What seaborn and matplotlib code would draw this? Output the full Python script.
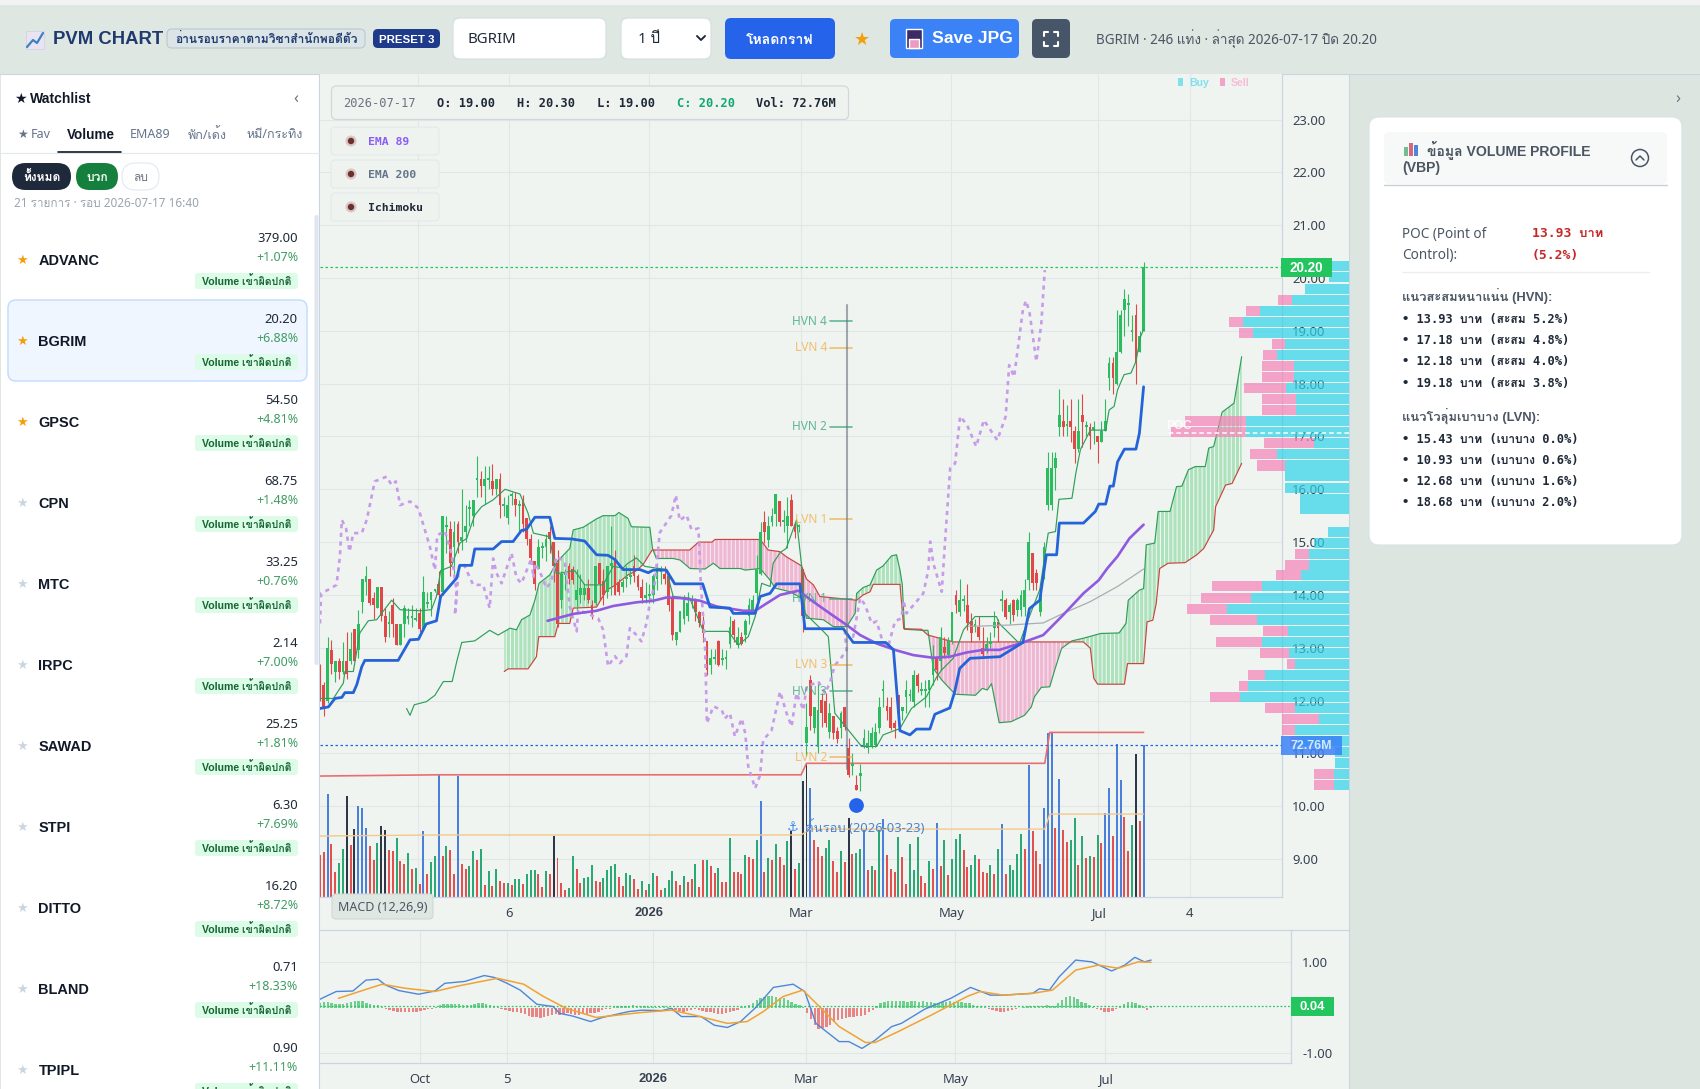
import warnings
import numpy as np
import matplotlib
matplotlib.use("Agg")
import matplotlib.pyplot as plt
from matplotlib.patches import FancyBboxPatch, Rectangle, Circle
from matplotlib import font_manager as fm
from matplotlib.ft2font import FT2Font
import seaborn as sns

# ---------- candles ----------
opens = [12.6,12.3,12.0,12.95,12.55,12.75,12.55,12.75,12.75,13.35,
12.95,13.87,14.25,14.3,13.95,13.75,14.15,13.6,13.45,13.8,
13.45,13.05,13.45,13.55,13.56,13.53,13.65,13.35,13.83,13.9,
14.08,14.2,14.05,15.28,15.25,14.9,15.35,15.02,15.2,15.63,
15.5,16.18,16.2,16.07,16.18,16.15,16.0,16.2,15.68,15.45,
15.88,15.82,15.68,15.8,15.45,15.05,14.65,14.5,14.88,14.9,
15.2,15.0,14.6,13.9,14.38,14.55,14.5,13.9,14.0,14.0,
14.13,13.8,13.85,14.6,14.27,14.05,14.55,14.7,14.25,14.15,
14.3,14.33,14.55,14.35,14.15,13.95,13.98,14.0,14.3,14.43,
14.4,14.35,13.95,13.15,13.3,13.55,13.6,
13.88,13.9,13.68,13.46,13.12,12.68,12.78,13.12,12.76,12.78,
13.08,13.5,13.05,13.2,13.24,13.6,13.68,14.03,14.4,15.38,
15.04,15.38,15.54,15.78,15.38,15.3,15.8,15.3,15.28,14.5,
11.2,12.39,11.48,11.13,12.01,12.0,11.4,11.7,11.42,11.48,
11.88,11.1,10.76,10.4,10.58,11.13,11.1,11.13,11.16,11.48,
12.18,11.9,11.88,11.58,12.11,11.8,12.07,12.08,11.98,12.49,
12.18,12.18,12.2,12.49,12.8,12.74,13.02,12.86,13.12,14.0,
13.68,13.88,13.8,13.5,13.4,13.4,12.99,12.96,13.08,13.37,
13.49,13.88,13.9,13.68,13.9,13.72,13.71,13.78,14.28,14.79,
14.41,13.68,14.4,15.7,15.7,16.4,17.18,17.3,17.2,17.3,
17.1,16.77,17.4,17.18,17.18,17.13,17.0,16.9,17.1,18.1,
18.4,18.0,18.6,19.4,19.48,18.98,19.3,18.6,19.0]
closes = [12.1,11.85,13.0,12.7,12.75,12.55,12.75,12.5,12.97,12.75,
13.45,14.3,14.35,13.85,13.8,14.15,13.6,13.2,13.47,13.45,
13.05,13.45,13.75,13.6,13.6,13.57,13.35,14.05,13.87,14.05,
14.12,14.0,15.5,15.32,14.6,15.2,15.0,15.1,15.3,15.67,
15.8,16.22,16.07,16.2,16.22,16.0,16.2,15.7,15.72,15.7,
15.92,15.7,15.72,15.35,15.05,14.7,14.2,14.9,14.92,15.05,
15.05,14.55,13.45,14.4,14.42,14.3,14.28,14.1,14.13,14.13,
13.9,13.6,14.55,14.2,14.0,14.55,14.6,14.0,14.05,14.25,
14.34,14.37,14.35,14.15,13.95,14.0,14.02,14.35,14.55,14.47,
14.3,13.8,13.25,13.3,13.7,13.9,13.85,
13.92,13.68,13.46,13.27,12.58,12.8,12.82,12.68,12.8,12.82,
13.4,13.24,13.2,13.08,13.5,13.81,13.9,14.5,15.2,15.2,
15.3,15.5,15.91,15.38,15.42,15.5,15.3,15.2,15.32,13.6,
11.5,11.7,11.88,11.82,11.76,11.57,11.76,11.38,11.28,11.76,
11.5,10.6,10.8,10.31,10.62,11.3,11.2,11.38,11.4,11.88,
12.22,11.8,11.48,11.48,11.76,11.88,12.2,12.12,12.49,12.27,
12.22,12.22,12.39,12.8,12.58,13.2,12.9,13.12,13.68,13.8,
13.9,13.92,13.47,13.28,13.44,13.2,12.89,13.08,13.12,13.49,
13.37,13.92,13.59,13.81,13.62,13.9,14.0,14.09,15.0,14.22,
14.22,14.0,14.9,16.4,16.4,16.6,17.4,17.18,17.24,17.18,
16.77,17.1,17.28,17.22,17.0,17.17,16.9,17.1,17.3,18.4,
18.1,18.6,19.3,19.6,19.52,19.02,18.4,18.9,20.2]
highs = [12.7,12.35,13.2,13.15,12.75,12.8,13.1,13.3,13.3,13.35,
13.72,14.3,14.55,14.3,14.05,14.15,14.15,13.75,13.7,13.95,
13.45,13.45,13.8,13.75,13.8,13.75,13.75,14.35,14.05,14.05,
14.12,14.45,15.5,15.5,15.4,15.4,15.4,16.0,15.7,15.8,
15.8,16.63,16.35,16.45,16.45,16.47,16.2,16.3,15.85,15.9,
15.95,15.95,15.8,15.9,15.45,15.15,14.65,15.05,15.0,15.15,
15.3,15.0,14.85,14.45,14.5,14.6,14.55,14.5,14.4,14.2,
14.3,13.9,14.55,14.6,14.5,14.55,15.3,14.85,14.3,14.3,
14.55,14.5,14.75,14.4,14.3,14.25,14.2,14.4,14.6,14.55,
14.55,14.4,14.0,13.3,13.7,14.0,14.05,
14.0,13.95,13.7,13.6,13.12,12.98,12.98,13.15,12.98,12.95,
13.6,13.55,13.4,13.3,13.55,13.95,14.0,14.75,15.38,15.58,
15.5,15.64,15.91,15.78,15.6,15.86,15.91,15.36,15.35,14.5,
11.95,12.49,11.88,12.33,12.14,12.14,11.95,11.7,11.5,11.8,
11.88,11.3,11.0,10.6,10.8,11.47,11.44,11.5,11.57,12.07,
12.39,12.07,12.07,11.63,12.11,11.88,12.39,12.22,12.58,12.52,
12.35,12.39,12.39,13.05,12.83,13.4,13.2,13.2,13.68,14.1,
14.3,14.0,14.2,13.65,13.55,13.6,13.4,13.2,13.3,13.7,
13.55,14.1,13.95,13.85,13.92,13.95,14.1,14.3,15.2,14.8,
14.5,14.15,15.0,16.7,16.7,16.7,17.9,17.7,17.6,17.7,
17.2,17.7,17.8,17.3,17.25,17.3,17.0,17.3,17.7,18.5,
18.5,19.4,19.4,19.8,19.7,19.3,19.5,19.0,20.3]
lows = [12.0,11.7,11.95,12.5,12.35,12.4,12.5,12.4,12.7,12.75,
12.8,13.65,14.0,13.8,13.55,13.75,13.5,13.1,13.2,13.2,
13.05,13.05,13.2,13.45,13.4,13.5,13.3,13.35,13.75,13.6,
14.05,13.9,14.0,14.8,14.35,14.4,14.8,14.85,15.0,15.3,
15.3,15.85,15.85,15.72,16.0,15.9,15.9,15.45,15.5,15.35,
15.7,15.5,15.2,15.2,14.95,14.6,14.1,14.5,14.7,14.65,
14.8,14.25,13.4,13.75,14.1,14.2,14.2,13.7,13.85,13.9,
13.85,13.55,13.8,13.9,13.8,13.95,14.0,14.0,14.0,14.05,
14.15,14.2,14.25,14.1,13.85,13.85,13.85,13.85,14.1,14.2,
14.2,13.7,13.15,13.05,13.3,13.45,13.5,
13.75,13.5,13.4,13.1,12.49,12.5,12.7,12.65,12.68,12.6,
13.0,13.1,13.0,13.05,13.1,13.45,13.65,13.9,14.38,14.98,
14.9,15.3,15.3,15.3,15.2,14.88,15.3,15.07,15.2,13.3,
10.95,11.44,11.38,11.0,11.5,11.5,11.3,11.28,11.2,11.3,
11.45,10.56,10.6,10.31,10.28,11.1,11.0,11.1,11.13,11.38,
11.88,11.63,11.44,11.3,11.57,11.63,11.76,12.0,11.88,12.17,
12.1,11.88,11.88,12.3,12.39,12.58,12.8,12.8,13.08,13.65,
13.6,13.7,13.34,13.1,13.3,13.15,12.85,12.9,13.0,13.2,
13.1,13.7,13.55,13.45,13.5,13.6,13.6,13.6,14.1,14.1,
14.1,13.6,14.3,15.6,15.6,15.99,17.0,17.0,17.0,16.9,
16.5,16.7,16.8,17.0,16.77,16.85,16.5,16.9,17.1,17.88,
17.8,17.98,18.58,18.9,19.1,18.8,18.0,18.6,19.0]

# ---------- volume (millions) ----------
volumes = [20,
21.5,49.5,25.5,12,16.3,23.1,48.2,25,32.7,43.7,
42.8,33.2,24.3,17.9,26,33.8,31.9,22.3,22,28.4,
17.1,16,21.2,13.6,14,6.1,31.4,10.9,16.8,
19.5,58.3,19.5,24.3,22.7,11.2,57.8,15.6,13.4,14.7,
22.2,17.6,22.8,5.6,12.3,5.1,13.6,7.5,6.7,6.9,
5.6,8.5,8.5,6.4,10.9,12.8,12.8,10.9,4.8,12.3,
11.2,29.4,18.7,6.9,3.2,4.5,19.5,13.6,6.9,9.1,
9.6,15.5,7.5,7.2,9.1,12.8,14.7,16,9.6,5.4,
11.7,10.4,8.5,4,7.5,3.5,6.1,11.7,9.9,3.5,
4.1,8,12.3,7.5,5.6,9.9,7.2,8.5,16,4.8,
17.9,17.9,14.8,11.7,14,7.2,7.2,28.4,11.8,11.8,
11.2,20.3,19.2,18.4,27.5,45.8,12,18.8,17.6,25.5,
19.2,15.2,26.7,31.4,13.6,16.4,55.4,63.8,52.3,27.1,23.9,
19.5,23.5,27.1,17.2,12,22,16.8,37.8,20.4,21.2,
22.8,31.9,12.8,14.8,12.8,31.9,37.5,20,13.6,11.8,
28.7,19.2,6.4,25.5,12.8,28.7,9.9,6.7,17.2,13.6,
35.6,14.7,27.1,10.4,18.4,27.6,30.3,22.7,14.4,15.2,
20.3,18.4,12,11.5,15.2,10.9,23.1,34.8,11.2,
15.2,13.1,20.7,30,22.8,63,31.4,21.9,15.6,42.5,
78.7,78.7,33.2,56.3,31.9,26.2,27.5,38,15.2,29,
18.5,19.5,19.2,29.5,25.9,40.4,52.3,29,73.1,55.9,
38.3,21.9,34.3,68.6,36.2,72.76]
vol_kind = ("R"
"RBRRGGKRKB"
"BBRRGKKRRG"
"RRGRGRBRG"
"GBRGRRBRRG"
"GRGRGRGRRG"
"RGGRGGGRRG"
"RKRRRGGRRG"
"GGRRGGGGRR"
"GGRRGRGGRR"
"GGGRRGRRGR"
"RGRRGRRGRR"
"RGRRGBRGRG"
"RRGKRGKKBRR"
"RGGRRGRKRG"
"GBRGRGBRRR"
"GRRGGGRRGR"
"BRGRGGGRRG"
"GRRRGRGBR"
"GGGGRBRRRB"
"BBRBRRGGRG"
"RGRGRBBRBB"
"RRGKRB")
vol_high_x = [0, 31, 125.6, 127, 189.2, 190.5, 215]
vol_high_y = [57.9, 58.5, 58.5, 64, 64, 78.8, 78.8]
vol_mid_x = [0, 31, 125.6, 128, 189.2, 190.5, 215]
vol_mid_y = [29.2, 29.7, 29.7, 32.5, 32.5, 39.7, 39.7]

# ---------- indicators ----------
kijun_x = [0,2.2,3.9,5.7,6.5,8.7,9.6,10.9,11.7,20.4,23.5,25.7,27.7,30.4,31.5,35.7,36.5,39.6,40.4,45.2,47.4,50.4,52.6,53.9,56.1,60,61.3,65.7,69.1,72.2,75.2,77,79.1,83.5,85.7,87,90.4,92.6,99.9,101.8,107,107.9,113.6,114.9,117.5,119.2,125.3,126.6,136.6,139.2,147.7,149.7,151.4,154,155.7,159.2,160.5,164.4,165.7,167,169.7,177.5,183.5,185.2,187.9,189.6,192.3,193,199.3,202.4,203.3,205.1,206.2,207.1,208.2,210,213,213.9,215]
kijun_y = [11.85,11.88,12.04,12.06,12.15,12.15,12.3,12.64,12.76,12.76,13.15,13.16,13.45,13.51,13.97,14.32,14.56,14.56,14.87,14.87,15.01,15.01,15.22,15.24,15.47,15.47,15.07,15.06,15.02,14.76,14.75,14.67,14.48,14.48,14.42,14.47,14.47,14.21,14.21,13.77,13.75,13.65,13.65,13.97,14.03,14.21,14.21,13.36,13.36,13.1,13.1,12.96,11.43,11.35,11.46,11.46,11.74,11.86,12.17,12.61,12.8,12.83,13.1,13.74,13.9,14.76,14.76,15.36,15.36,15.58,15.72,15.72,16.06,16.06,16.52,16.76,16.76,17.06,17.94]
tenkan_x = [0,3.5,6.1,6.5,8.7,10.4,12.6,14.8,18.7,20.9,26.1,29.1,30.4,31.5,34.3,36.5,38.3,40.4,42.2,45.2,48.3,52.2,54.3,55.7,60,60.9,61.7,66.5,69.1,73.9,76.5,79.1,80.4,82.6,84.8,90.4,92.2,96.5,100.1,106.6,109.2,111.8,113.6,115.3,117.5,118.3,120.1,121.7,124.4,125.7,126.6,131,132.7,134.4,137.5,141.4,145.3,147,151.4,154.4,158.3,159.7,161,162.3,165.3,168,171,176.6,177.3,182.6,184.8,187.9,190.1,192,192.9,196.3,197.3,198.5,201.1,205.1,206,207.3,208.2,209.9,211.7,213,214.2,215]
tenkan_y = [12.04,12.04,12.33,12.55,12.55,13.28,13.51,13.53,13.9,13.72,13.7,13.72,13.97,14.46,14.54,14.98,15.07,15.51,15.67,15.8,16.0,15.91,15.55,15.17,15.1,14.67,14.4,14.46,14.19,14.19,14.54,14.51,14.6,14.7,14.54,14.48,13.97,13.94,13.31,13.31,13.05,13.21,13.59,14.22,14.16,14.6,14.8,14.88,15.42,14.57,13.65,13.34,13.21,11.76,11.48,11.13,11.13,11.35,11.47,11.85,12.07,12.27,12.45,12.58,12.8,13.34,13.59,13.59,13.46,13.08,13.52,14.1,15.17,15.2,15.81,15.83,16.3,16.75,17.12,17.12,17.5,17.57,17.88,18.17,18.2,18.42,18.89,19.02]
span_a_x = [22.6,23.5,24.6,27.8,30,32.2,34.5,35.7,37,40.4,44.3,46.5,49.6,51.3,52.6,54.8,56.1,57.2,60,61.9,65.2,66.1,68.7,72.2,73.9,77,78,80.4,81.3,86.1,86.8,87.8,92.2,94,96.6,100.5,102.7,104.4,109.7,111,114.9,117.5,118.8,122.7,125.7,127,131.4,134,137.5,139.7,140.1,141.8,143.6,145.3,147,149.2,150.5,151.4,152,152.6,157,158.7,160.1,162.3,165.8,171.1,172.9,174.2,175.3,177.3,180.4,183.9,185.7,186.5,188.3,190.5,191.8,193.6,196.3,199.3,203.8,208.6,210.4,211,213.9,215,215.7,217.9,218.8,221.9,223.6,225,226.7,228.5,231.1,232,233.3,235.5,238.6,240.6]
span_a_y = [11.85,11.72,11.92,11.98,12.1,12.36,12.36,12.74,13.1,13.13,13.33,13.24,13.37,13.34,13.53,13.62,13.9,14.22,14.38,14.63,14.88,15.23,15.28,15.44,15.5,15.5,15.56,15.45,15.29,15.28,14.88,14.69,14.69,14.66,14.5,14.49,14.6,14.5,14.5,14.47,14.5,14.28,14.13,14.06,13.94,13.56,13.53,13.4,13.4,13.65,14.03,14.14,14.19,14.47,14.55,14.74,14.76,14.47,14.2,13.35,13.33,13.33,12.61,12.39,12.12,12.1,12.23,12.2,12.32,11.58,11.6,11.72,11.88,12.07,12.25,12.26,12.58,12.99,13.13,13.18,13.27,13.28,13.46,13.9,14.09,14.12,14.95,14.98,15.58,15.58,16.05,16.06,16.37,16.43,16.43,16.78,16.81,17.46,17.63,18.51]
span_b_x = [48.1,49.1,54.3,56.5,57.1,61.3,62.2,65.2,66.1,72.2,74.8,77,80.4,82.2,84.3,86.7,96.5,98.8,102.3,103.1,114.9,117,120,121.8,125.7,127,128.8,130.5,140.1,141.8,143.6,144.4,151.4,152.4,157,158.7,165.4,199.3,201.1,202,203,210,210.8,215,215.9,217.4,218.3,219.2,221.4,225.8,228.9,230.7,233.3,233.8,236.4,238.1,240.6]
span_b_y = [12.55,12.6,12.6,12.83,13.21,13.21,13.46,13.46,13.75,13.77,14.09,14.18,14.38,14.44,14.57,14.85,14.85,15.0,15.0,15.05,15.05,14.85,14.82,14.72,14.55,14.3,14.19,13.97,13.9,14.0,14.06,14.2,14.2,13.36,13.35,13.24,13.11,13.11,12.99,12.42,12.31,12.31,12.7,12.7,13.49,13.52,13.84,14.5,14.6,14.61,14.76,14.88,15.23,15.67,16.08,16.11,16.49]
chikou_x = [0,0.3,2.2,4.3,5.2,5.7,6.8,7.7,8.7,10.9,12.2,14.3,17.4,18.7,19.8,20.9,23.5,25.7,27,28.7,30,30.6,32.6,34.3,35.7,35.2,36.3,37.4,40,42.6,44.3,45.2,46.1,47.4,50,51.3,52.6,55.2,55.7,56.1,57.4,59.1,60.4,61.7,63.9,65.2,67,67.4,72.6,73.9,75.2,77,78.3,80,80.9,82.6,83.9,85.2,86.1,87.4,88.7,91.7,92.9,93.9,95.7,97,98.8,99.4,100.5,101,102.7,104.9,105.7,107,108.3,110.1,111,111.8,113.6,114.9,115.7,117.9,120.1,121.8,123.1,124.4,126.2,127,130.1,131.8,133.1,134.4,135.7,137.5,137,139.2,141,142.3,144,145.3,147,148.3,150.1,151.8,152.3,153.1,157.5,158.8,159.3,160.1,162.3,163.2,164.5,165.8,167.1,168.9,171.3,173.3,176.8,179,179.9,181.2,183.5,184.3,185.2,187,188.3,189.2]
chikou_y = [13.46,14.03,14.1,14.19,14.73,15.42,15.26,14.82,15.17,15.17,15.42,16.15,16.24,16.08,16.15,15.7,15.77,15.64,15.32,14.91,14.47,15.13,15.21,14.79,14.03,13.62,14.54,14.6,14.19,14.19,13.75,14.69,14.41,14.22,14.79,14.32,14.22,14.69,14.32,14.6,14.44,14.13,14.25,14.73,14.63,13.78,13.31,13.72,13.56,13.34,12.65,12.84,12.71,12.84,13.37,13.24,13.12,13.46,13.84,14.22,15.18,15.5,15.89,15.41,15.51,15.23,15.26,14.22,13.09,11.57,11.89,11.82,11.66,11.76,11.32,11.66,11.38,10.75,10.34,10.59,11.25,11.44,12.17,11.76,11.51,12.14,11.82,12.26,12.36,12.14,12.33,12.67,12.77,12.96,13.27,13.21,13.94,13.81,13.46,13.5,13.09,13.02,13.5,13.56,13.9,13.65,14.03,14.47,15.01,14.6,14.06,15.04,16.4,16.49,17.38,17.22,16.81,17.31,16.93,17.38,18.35,18.13,19.4,19.57,19.36,18.42,19.14,20.15]
ema89_x = [59.4,66.1,72.2,76.5,82.6,87,90.4,94,99.2,103.6,110.5,113.6,116.6,120.1,124.9,128.8,133.1,137.5,141,145.3,150.5,154.9,160.1,164.4,168.8,173.1,177.4,183.5,188.8,194,199.3,203.3,205.5,208.2,211.3,215]
ema89_y = [13.51,13.64,13.7,13.79,13.86,13.89,13.95,13.94,13.89,13.78,13.7,13.7,13.84,14.0,14.08,13.87,13.65,13.43,13.24,13.08,12.95,12.86,12.81,12.83,12.91,12.96,12.96,13.1,13.24,13.62,14.03,14.28,14.5,14.73,15.07,15.33]
ema200_x = [169.3,172.3,180,188.8,194,201,208.2,215]
ema200_y = [13.41,13.41,13.43,13.47,13.65,13.87,14.16,14.49]

# ---------- MACD ----------
macd_x = [0,1.7,4.2,8.5,11.9,15,17,20.4,25.5,29.7,32.3,37.4,42.5,45,48.4,51.8,56.1,60.3,62,65.4,70,73.1,79.9,83.3,88.4,90.9,93.5,98.6,102,105.4,108.8,113,117.3,122.4,125.4,128.3,134.3,136.8,140.2,143.6,147.9,150.4,156.4,163.2,168.3,173.4,176.8,184.4,186.1,188.7,191.2,195.5,199.7,204.8,208.2,210.8,213.3,215]
macd_y = [.19,.26,.36,.37,.61,.63,.5,.38,.3,.37,.54,.58,.71,.67,.54,.39,.08,.03,-.12,-.18,-.3,-.21,-.08,-.05,-.06,-.01,-.19,-.19,-.38,-.43,-.3,.03,.45,.52,.36,-.34,-.74,-.74,-.89,-.71,-.41,-.34,-.03,.21,.45,.28,.28,.32,.42,.39,.68,1.05,1.01,.81,.94,1.11,1.01,1.05]
signal_x = [4.8,10.2,16.1,22.1,29.7,35.7,45.9,52.7,57.8,63.7,71.4,83.3,90.9,96.9,105.4,110.5,114.7,119.8,124.9,129.2,134.3,141.1,143.6,149.6,158.1,167.4,170.8,176.8,184.4,189.5,195.5,201.4,206.5,211.6,215]
signal_y = [.21,.36,.52,.43,.36,.48,.65,.52,.25,-.01,-.21,-.1,-.05,-.16,-.34,-.3,-.08,.25,.39,.03,-.41,-.76,-.76,-.52,-.16,.25,.36,.28,.32,.39,.83,.94,.87,1.01,1.0]
macd_hist = [0.10,0.14,0.12,0.10,0.09,0.09,0.08,0.10,0.12,0.15,0.16,0.15,0.11,0.09,0.07,0.06,0.03,
-0.03,-0.05,-0.07,-0.08,-0.09,-0.09,-0.09,-0.08,-0.08,-0.07,-0.05,-0.03,-0.02,
0.02,0.06,0.08,0.09,0.09,0.09,0.08,0.06,0.06,0.07,0.09,0.10,0.10,0.08,0.07,0.05,0.03,
-0.03,-0.05,-0.07,-0.09,-0.10,-0.12,-0.14,-0.17,-0.20,-0.20,-0.22,-0.20,-0.18,-0.15,-0.13,-0.15,-0.13,-0.12,-0.14,-0.15,-0.16,-0.14,-0.13,-0.12,-0.11,-0.08,-0.05,-0.03,-0.02,
0.02,0.04,0.05,0.05,0.04,0.06,0.05,0.05,0.05,0.03,0.02,0.02,0.03,0.05,0.02,
-0.02,-0.04,-0.06,-0.08,-0.07,-0.05,-0.03,-0.04,-0.06,-0.08,-0.10,-0.11,-0.13,-0.13,-0.12,-0.09,-0.07,-0.04,
0.02,0.04,0.07,0.11,0.17,0.22,0.25,0.26,0.27,0.25,0.21,0.21,0.17,0.14,0.09,0.06,0.03,
-0.12,-0.25,-0.38,-0.47,-0.45,-0.43,-0.38,-0.32,-0.26,-0.24,-0.22,-0.20,-0.19,-0.18,-0.17,-0.15,-0.10,-0.04,
0.05,0.10,0.14,0.16,0.16,0.15,0.15,0.15,0.14,0.15,0.15,0.14,0.15,0.13,0.12,0.11,0.10,0.12,0.13,0.15,0.12,0.14,0.12,0.10,0.10,0.07,0.05,0.04,0.02,
-0.02,-0.05,-0.07,-0.09,-0.08,-0.06,-0.05,-0.03,-0.01,
0.03,0.05,0.05,0.05,0.05,0.04,0.07,
0.05,0.04,0.10,0.18,0.24,0.26,0.25,0.20,0.14,0.11,0.06,0.03,
-0.02,-0.05,-0.08,-0.10,-0.07,-0.02,
0.04,0.09,0.12,0.13,0.11,0.07,0.02,
-0.05,0.04]

# ---------- volume profile (percent of volume) ----------
vp_price = [20.22,20.01,19.8,19.58,19.38,19.17,18.96,18.75,18.54,18.33,18.13,17.92,17.7,17.5,17.29,17.08,16.87,16.66,16.45,16.25,16.03,15.82,15.62,15.2,14.99,14.78,14.57,14.37,14.16,13.95,13.74,13.53,13.32,13.11,12.9,12.7,12.49,12.28,12.07,11.86,11.66,11.45,11.24,11.03,10.82,10.61,10.41]
vp_buy = [.63,.71,1.56,2.02,3.15,3.75,3.39,2.24,2.54,1.94,1.94,2.21,1.85,1.85,3.64,3.64,1.25,2.54,2.26,2.27,2.27,1.74,1.74,.73,1.23,1.4,1.4,1.7,3.07,3.45,4.29,3.23,2.14,3.05,2.12,1.9,2.95,3.55,3.85,1.9,1.07,1.9,1.82,.5,.51,.54,.54]
vp_sell = [0,0,0,.48,.49,.48,.48,.48,.48,1.11,1.11,1.49,1.23,1.23,2.13,2.62,1.73,.95,.98,0,0,0,0,0,0,.51,.86,.86,1.75,1.76,1.4,1.67,.9,1.62,1.0,.3,.62,.31,1.06,1.05,1.29,.45,.24,0,0,.69,.69]
vbp_levels = ["HVN 4","LVN 4","HVN 2","LVN 1","HVN 1","LVN 3","HVN 3","LVN 2"]
vbp_prices = [19.18,18.68,17.18,15.43,13.93,12.68,12.18,10.93]

# ---------- labels ----------
main_ticks_x = [25.6,49.3,85.9,125.6,164.8,203.1,227]
main_tick_labels = ["","6","2026","Mar","May","Jul","4"]
macd_ticks_x = [25.9,48.4,86.2,125.8,164.4,203.2]
macd_tick_labels = ["Oct","5","2026","Mar","May","Jul"]
price_ticks = [9,10,11,12,13,14,15,16,17,18,19,20,21,22,23]
wl_names = ["ADVANC","BGRIM","GPSC","CPN","MTC","IRPC","SAWAD","STPI","DITTO","BLAND","TPIPL"]
wl_prices = ["379.00","20.20","54.50","68.75","33.25","2.14","25.25","6.30","16.20","0.71","0.90"]
wl_changes = ["+1.07%","+6.88%","+4.81%","+1.48%","+0.76%","+7.00%","+1.81%","+7.69%","+8.72%","+18.33%","+11.11%"]
wl_fav = [True,True,True,False,False,False,False,False,False,False,False]
hvn_rows = ["• 13.93 บาท (สะสม 5.2%)","• 17.18 บาท (สะสม 4.8%)","• 12.18 บาท (สะสม 4.0%)","• 19.18 บาท (สะสม 3.8%)"]
lvn_rows = ["• 15.43 บาท (เบาบาง 0.0%)","• 10.93 บาท (เบาบาง 0.6%)","• 12.68 บาท (เบาบาง 1.6%)","• 18.68 บาท (เบาบาง 2.0%)"]

# ---------- style ----------
BG_CHART = "#eff4f0"; BG_TOP = "#dfe7e3"; BG_RIGHT = "#dde5e1"
GRID = "#e1e7e8"; LINE = "#cbd5e1"
UP = "#2dbb5f"; DOWN = "#e04848"
sns.set_theme(style="white", rc={"axes.facecolor": BG_CHART, "figure.facecolor": BG_TOP,
                                 "hatch.linewidth": 0.7, "axes.unicode_minus": False})

thai = []
for f in fm.fontManager.ttflist:
    try:
        if 0x0E01 in FT2Font(f.fname).get_charmap() and f.name not in thai:
            thai.append(f.name)
    except Exception:
        pass
SANS = ["Noto Sans"] + thai[:1] + ["DejaVu Sans"]
BOLD = ["Liberation Sans"] + thai[:1] + ["DejaVu Sans"]
MONO = ["DejaVu Sans Mono"] + thai[:1] + ["DejaVu Sans"]
plt.rcParams["font.family"] = SANS

W, H = 1700, 1089
fig = plt.figure(figsize=(W / 100, H / 100), dpi=100)

def axpx(l, t, r, b, **kw):
    return fig.add_axes([l / W, 1 - b / H, (r - l) / W, (b - t) / H], **kw)

def pixel_layer(z):
    a = axpx(0, 0, W, H, zorder=z)
    a.set_xlim(0, W); a.set_ylim(H, 0); a.axis("off")
    a.patch.set_alpha(0)
    return a

under = pixel_layer(0)
over = pixel_layer(10)

def rr(a, x0, y0, x1, y1, r=6, fc="white", ec="none", lw=0.8, alpha=None, z=2):
    a.add_patch(FancyBboxPatch((x0, y0), x1 - x0, y1 - y0, boxstyle=f"round,pad=0,rounding_size={r}",
                               fc=fc, ec=ec, lw=lw, alpha=alpha, zorder=z))

def tx(a, x, y, s, px=14, c="#111827", w="normal", ha="left", fam=None, alpha=None, z=5):
    family = fam or (BOLD if w == "bold" else SANS)
    a.text(x, y + 0.8, s, fontsize=px * 0.72, color=c, fontweight=w, ha=ha, va="center",
           family=family, alpha=alpha, zorder=z)

# ---------- page blocks ----------
under.add_patch(Rectangle((0, 0), W, 5, fc="#f0f3f1", ec="none"))
under.add_patch(Rectangle((0, 5), W, 69, fc=BG_TOP, ec="none"))
under.add_patch(Rectangle((1, 74), 318, H - 74, fc="white", ec="none"))
under.add_patch(Rectangle((320, 74), 1029, H - 74, fc=BG_CHART, ec="none"))
under.add_patch(Rectangle((1349, 74), W - 1349, H - 74, fc=BG_RIGHT, ec="none"))
for xs, ys in [((0, W), (74, 74)), ((319.5, 319.5), (74, H)), ((1349, 1349), (74, H))]:
    under.plot(xs, ys, color=LINE, lw=0.8)

# ---------- header ----------
under.add_patch(Rectangle((26, 31), 18, 18, fc="#e9e3f2", ec="#d7d0e6", lw=0.6, zorder=3))
under.plot([27, 33, 37, 43], [47, 40, 43, 33], color="#3b82c4", lw=1.6, zorder=4)
tx(under, 53, 39, "PVM CHART", 18.5, "#1e3a6e", "bold")
rr(under, 167, 29, 365, 48, 5, "#dbe4e6", "#bcc8d0")
tx(under, 175, 39, "อ่านรอบราคาตามวิชาสำนักพอดีตัว", 12, "#1e3a6e", "bold")
rr(under, 373, 29, 440, 48, 5, "#1e3a8a")
tx(under, 406.5, 39, "PRESET 3", 11.5, "white", "bold", ha="center")
rr(under, 453, 18, 606, 59, 7, "white", "#d5dde0")
tx(under, 468, 39, "BGRIM", 15, "#1f2937")
rr(under, 621, 18, 711, 59, 7, "white", "#d5dde0")
tx(under, 638, 39, "1 ปี", 15, "#1f2937")
under.plot([697, 701, 705], [36, 40, 36], color="#1f2937", lw=1.4, zorder=4)
rr(under, 725, 18, 835, 59, 6, "#2563eb")
tx(under, 780, 39, "โหลดกราฟ", 14, "white", "bold", ha="center")
tx(under, 862, 39, "★", 18, "#f59e0b", ha="center", fam=["DejaVu Sans"])
rr(under, 890, 19, 1019, 58, 5, "#3b82f6")
under.add_patch(Rectangle((906, 29), 16, 19, fc="#3b2a66", zorder=4))
under.add_patch(Rectangle((909, 39), 10, 9, fc="#ec9cc0", zorder=5))
tx(under, 932, 38, "Save JPG", 17.5, "white", "bold")
rr(under, 1032, 19, 1070, 58, 5, "#475569")
for sx in (-1, 1):
    for sy in (-1, 1):
        under.plot([1051 + sx * 7, 1051 + sx * 7, 1051 + sx * 3], [38.5 + sy * 3, 38.5 + sy * 7, 38.5 + sy * 7],
                   color="white", lw=1.5, zorder=5, solid_capstyle="round")
tx(under, 1096, 39, "BGRIM · 246 แท่ง · ล่าสุด 2026-07-17 ปิด 20.20", 13.5, "#4b5563")

# ---------- watchlist ----------
tx(under, 14, 98, "★", 14, "#111827", fam=["DejaVu Sans"])
tx(under, 30, 98, "Watchlist", 14, "#111827", "bold")
tx(under, 296, 98, "‹", 16, "#6b7280", ha="center")
tx(under, 17, 134, "★", 12, "#64748b", fam=["DejaVu Sans"])
tx(under, 31, 134, "Fav", 12.5, "#64748b")
tx(under, 67, 134, "Volume", 13.5, "#111827", "bold")
tx(under, 130, 134, "EMA89", 12.5, "#64748b")
tx(under, 188, 134, "พัก/เด้ง", 12.5, "#64748b")
tx(under, 246, 134, "หมี/กระทิง", 12.5, "#64748b")
under.plot([1, 319], [153, 153], color="#e2e8f0", lw=0.8, zorder=3)
under.plot([58, 121], [152, 152], color="#111827", lw=1.2, zorder=4)
rr(under, 12, 163, 71, 190, 13.5, "#1e293b")
tx(under, 41.5, 177, "ทั้งหมด", 12, "white", "bold", ha="center")
rr(under, 76, 163, 118, 190, 13.5, "#15803d")
tx(under, 97, 177, "บวก", 12, "white", "bold", ha="center")
rr(under, 122, 163, 159, 190, 13.5, "white", "#e2e8f0")
tx(under, 140.5, 177, "ลบ", 12, "#6b7280", ha="center")
tx(under, 14, 203, "21 รายการ · รอบ 2026-07-17 16:40", 11.8, "#9ca3af")
rr(under, 314.5, 215, 318.5, 665, 2, "#dfe6ee")
rr(under, 8, 300, 307, 381, 8, "#eff6ff", "#bfdbfe", 1)
for k, name in enumerate(wl_names):
    y0 = 238 + 81 * k
    tx(under, 22, y0 + 22, "★", 13, "#f59e0b" if wl_fav[k] else "#cbd5e1", ha="center", fam=["DejaVu Sans"])
    tx(under, 38.5, y0 + 22, name, 14.5, "#111827", "bold")
    tx(under, 298, y0, wl_prices[k], 13, "#1f2937", ha="right")
    tx(under, 298, y0 + 18.5, wl_changes[k], 12.5, "#3f9c62", ha="right")
    rr(under, 195, y0 + 35, 298, y0 + 51, 3, "#dcfce7")
    tx(under, 246.5, y0 + 42.5, "Volume เข้าผิดปกติ", 10.5, "#166534", "bold", ha="center")

# ---------- panes ----------
L, R_MAIN, T_MAIN, B_MAIN = 320, 1281.5, 74, 897
grid_ax = axpx(L, T_MAIN, R_MAIN, B_MAIN, zorder=0.5)
grid_ax.set_facecolor(BG_CHART)
grid_ax.set_xlim(0, 251); grid_ax.set_ylim(8.281, 23.862)
grid_ax.set_xticks(main_ticks_x); grid_ax.set_yticks(price_ticks)
grid_ax.set_xticklabels([]); grid_ax.set_yticklabels([])
grid_ax.grid(True, color=GRID, lw=0.8)
grid_ax.tick_params(length=0)
for s in grid_ax.spines.values():
    s.set_visible(False)

vol_ax = axpx(L, T_MAIN, R_MAIN, B_MAIN, zorder=1)
vol_ax.patch.set_alpha(0)
vol_ax.set_xlim(0, 251); vol_ax.set_ylim(0, 394)
kind_color = {"R": "#e25050", "G": "#2aa876", "B": "#4a7fdc", "K": "#2d3748"}
assert len(volumes) == len(vol_kind) == len(opens)
idx = np.arange(len(opens))
vol_ax.bar(idx, volumes, width=0.52, color=[kind_color[k] for k in vol_kind], linewidth=0, zorder=2)
sns.lineplot(x=vol_high_x, y=vol_high_y, ax=vol_ax, color="#e96f6f", lw=1.2, estimator=None, errorbar=None, zorder=3)
sns.lineplot(x=vol_mid_x, y=vol_mid_y, ax=vol_ax, color="#f3c88c", lw=1.0, estimator=None, errorbar=None, zorder=3)
vol_ax.axhline(72.76, color="#2563eb", lw=0.9, ls=(0, (2, 2)), zorder=4)
vol_ax.set_xticks([]); vol_ax.set_yticks([])
vol_ax.set_xlabel(""); vol_ax.set_ylabel("")
for s in vol_ax.spines.values():
    s.set_visible(False)

ax = axpx(L, T_MAIN, R_MAIN, B_MAIN, zorder=2)
ax.patch.set_alpha(0)
ax.set_xlim(0, 251); ax.set_ylim(8.281, 23.862)

ax_all = np.union1d(span_a_x, span_b_x)
ax_all = ax_all[ax_all >= span_b_x[0]]
a_val = np.interp(ax_all, span_a_x, span_a_y)
b_val = np.interp(ax_all, span_b_x, span_b_y)
ax.fill_between(ax_all, a_val, b_val, where=a_val >= b_val, interpolate=True, facecolor="#aee2bd",
                edgecolor="#f4f9f5", hatch="||||", linewidth=0, zorder=1)
ax.fill_between(ax_all, a_val, b_val, where=a_val <= b_val, interpolate=True, facecolor="#eeb8d2",
                edgecolor="#f8ecf2", hatch="||||", linewidth=0, zorder=1)
sns.lineplot(x=span_a_x, y=span_a_y, ax=ax, color="#2f9e58", lw=0.85, estimator=None, errorbar=None, sort=False, zorder=2)
sns.lineplot(x=span_b_x, y=span_b_y, ax=ax, color="#c8463f", lw=0.85, estimator=None, errorbar=None, sort=False, zorder=2)

o, h, l, c = map(np.array, (opens, highs, lows, closes))
up = c >= o
cols = np.where(up, UP, DOWN)
ax.vlines(idx, l, h, colors=cols, lw=0.8, zorder=3)
ax.bar(idx, np.maximum(np.abs(c - o), 0.035), bottom=np.minimum(o, c), width=0.72, color=cols, linewidth=0, zorder=3)

sns.lineplot(x=tenkan_x, y=tenkan_y, ax=ax, color="#2f9e58", lw=0.85, estimator=None, errorbar=None, sort=False, zorder=4)
sns.lineplot(x=chikou_x, y=chikou_y, ax=ax, color="#c79be8", lw=1.9, linestyle=(0, (1.6, 1.7)), estimator=None, errorbar=None, sort=False, zorder=4)
sns.lineplot(x=ema200_x, y=ema200_y, ax=ax, color="#a8adb3", lw=0.9, estimator=None, errorbar=None, sort=False, zorder=4)
sns.lineplot(x=ema89_x, y=ema89_y, ax=ax, color="#8f5ae0", lw=1.9, estimator=None, errorbar=None, sort=False, zorder=5)
sns.lineplot(x=kijun_x, y=kijun_y, ax=ax, color="#2563d9", lw=2.0, estimator=None, errorbar=None, sort=False, zorder=5)

ax.axhline(20.20, color="#22c55e", lw=0.9, ls=(0, (2, 2)), zorder=4)
for name, p in zip(vbp_levels, vbp_prices):
    col = "#3fa67f" if name.startswith("HVN") else "#f3b04d"
    ax.plot([133.2, 138.9], [p, p], color=col, lw=1.2, alpha=0.8, zorder=5)
    ax.text(132.4, p, name, fontsize=8.6, color=col, ha="right", va="center", alpha=0.8, zorder=5, family=SANS)
ax.plot([137.6, 137.6], [10.7, 19.48], color="#6b7280", lw=1.5, alpha=0.6, zorder=5)
ax.scatter([139.8], [10.02], s=113, color="#2563eb", zorder=6, linewidths=0)
ax.text(123.5, 9.6, "⚓", fontsize=9.5, color="#3b82f6", ha="center", va="center", zorder=6, family=["DejaVu Sans"])
ax.text(142.3, 9.6, "ต้นรอบ (2026-03-23)", fontsize=9.4, color="#4f83cc", ha="center", va="center", zorder=6, family=SANS)

ax.set_yticks(price_ticks); ax.set_yticklabels([f"{p:.2f}" for p in price_ticks])
ax.yaxis.tick_right()
ax.set_xticks(main_ticks_x); ax.set_xticklabels(main_tick_labels)
ax.tick_params(axis="both", length=0, labelsize=9.4, labelcolor="#374151")
ax.tick_params(axis="y", pad=7.5)
ax.tick_params(axis="x", pad=7)
ax.get_xticklabels()[2].set_fontweight("bold")
ax.get_xticklabels()[2].set_family(BOLD)
ax.set_xlabel(""); ax.set_ylabel("")
for s in ["top", "left"]:
    ax.spines[s].set_visible(False)
for s in ["right", "bottom"]:
    ax.spines[s].set_color(LINE); ax.spines[s].set_linewidth(0.9)

# ---------- volume profile ----------
vp_ax = axpx(1000, T_MAIN, 1349, B_MAIN, zorder=3)
vp_ax.patch.set_alpha(0)
vp_ax.set_xlim(349 / 28.4, 0); vp_ax.set_ylim(8.281, 23.862)
vp_ax.barh(vp_price, vp_buy, height=0.19, color="#2dd2ea", alpha=0.7, linewidth=0)
vp_ax.barh(vp_price, vp_sell, left=vp_buy, height=0.19, color="#f580b7", alpha=0.7, linewidth=0)
vp_ax.plot([0, 6.4], [17.07, 17.07], color="white", lw=1.1, ls=(0, (3, 2)))
vp_ax.text(6.45, 17.2, "POC", fontsize=8.6, color="white", fontweight="bold", ha="left", va="center", alpha=0.85, family=BOLD)
vp_ax.axis("off")

# ---------- MACD ----------
macd_ax = axpx(L, 930, 1291, 1063, zorder=2)
macd_ax.set_facecolor(BG_CHART)
macd_ax.set_xlim(0, 251.2); macd_ax.set_ylim(-1.21, 1.71)
macd_ax.grid(True, color=GRID, lw=0.8); macd_ax.set_axisbelow(True)
hist = np.array(macd_hist)
macd_ax.bar(idx, hist, width=0.62, color=np.where(hist >= 0, "#6fcf8e", "#ea8383"), linewidth=0, zorder=2)
macd_ax.axhline(0.04, color="#34c46c", lw=0.9, ls=(0, (1.5, 1.5)), zorder=3)
sns.lineplot(x=macd_x, y=macd_y, ax=macd_ax, color="#4f86d9", lw=1.0, estimator=None, errorbar=None, zorder=4)
sns.lineplot(x=signal_x, y=signal_y, ax=macd_ax, color="#f0a234", lw=1.1, estimator=None, errorbar=None, zorder=4)
macd_ax.set_yticks([-1, 1]); macd_ax.set_yticklabels(["-1.00", "1.00"])
macd_ax.yaxis.tick_right()
macd_ax.set_xticks(macd_ticks_x); macd_ax.set_xticklabels(macd_tick_labels)
macd_ax.tick_params(axis="both", length=0, labelsize=9.4, labelcolor="#374151")
macd_ax.tick_params(axis="y", pad=8)
macd_ax.tick_params(axis="x", pad=7)
macd_ax.get_xticklabels()[2].set_fontweight("bold")
macd_ax.get_xticklabels()[2].set_family(BOLD)
macd_ax.set_xlabel(""); macd_ax.set_ylabel("")
for s in ["top", "left"]:
    macd_ax.spines[s].set_visible(False)
for s in ["right", "bottom"]:
    macd_ax.spines[s].set_color(LINE); macd_ax.spines[s].set_linewidth(0.9)
over.plot([320, 1349], [930, 930], color=LINE, lw=0.9, zorder=3)

# ---------- chart overlays ----------
rr(over, 331.5, 86, 848.5, 119.5, 5, "#eef3ef", "#cfd8dc", 0.9)
for x, s, col in [(343, "2026-07-17", "#6b7280"), (437, "O: 19.00", "#1f2937"), (517, "H: 20.30", "#1f2937"),
                  (597, "L: 19.00", "#1f2937"), (677, "C: 20.20", "#10a86f"), (756, "Vol: 72.76M", "#1f2937")]:
    tx(over, x, 103, s, 12, col, "bold" if x > 343 else "normal", fam=MONO)
for (yy, label, col) in [(141, "EMA 89", "#8b5cf6"), (174, "EMA 200", "#64748b"), (207, "Ichimoku", "#1f2937")]:
    rr(over, 331, yy - 14, 439, yy + 14, 4, "#eef3ef", "#e2e8e8", 0.7)
    over.add_patch(Circle((351, yy), 5.5, fc="#d9c7c3", ec="none", zorder=4))
    over.add_patch(Circle((351, yy), 3.2, fc="#6b2f2f", ec="none", zorder=5))
    tx(over, 368, yy, label, 11.5, col, "bold", fam=MONO)
over.add_patch(Rectangle((1178, 78), 5, 8, fc="#7fe0ee", ec="none", zorder=4))
tx(over, 1189, 82, "Buy", 10.5, "#7fe0ee", "bold")
over.add_patch(Rectangle((1220, 78), 5, 8, fc="#f3a3c8", ec="none", zorder=4))
tx(over, 1231, 82, "Sell", 10.5, "#f6bcd6", "bold")
rr(over, 332, 894, 433, 919, 4, "#dfe7e3", "#cfd8d8", 0.8)
tx(over, 382.5, 907, "MACD (12,26,9)", 12.5, "#4b5563", ha="center")
over.add_patch(Rectangle((1281, 258), 51, 19, fc="#22c55e", ec="none", zorder=4))
tx(over, 1306.5, 267, "20.20", 13.5, "white", "bold", ha="center")
over.add_patch(Rectangle((1281, 736), 61, 19, fc="#3b82f6", ec="none", alpha=0.85, zorder=4))
tx(over, 1311.5, 745, "72.76M", 12.5, "#cfeaff", "bold", ha="center")
over.add_patch(Rectangle((1291, 997), 43, 19, fc="#22c55e", ec="none", zorder=4))
tx(over, 1312.5, 1006, "0.04", 13, "white", "bold", ha="center")

# ---------- right panel ----------
tx(over, 1678, 98, "›", 16, "#6b7280", ha="center")
rr(over, 1369, 117, 1682, 545, 10, "white", "#d9e2e6", 0.8)
rr(over, 1384, 132, 1667, 184, 5, "#f7f8f8")
over.plot([1384, 1667], [184.5, 184.5], color="#c9cfd4", lw=1, zorder=4)
for bx, bh, bc in [(1404, 9, "#6fbf8f"), (1409, 13, "#d9667f"), (1414, 11, "#4f86d9")]:
    over.add_patch(Rectangle((bx, 156 - bh), 4, bh, fc=bc, ec="none", zorder=5))
tx(over, 1427, 150, "ข้อมูล VOLUME PROFILE", 14, "#4b5563", "bold")
tx(over, 1402, 167, "(VBP)", 14, "#4b5563", "bold")
over.add_patch(Circle((1640, 158), 8.5, fc="none", ec="#475569", lw=1.1, zorder=5))
over.plot([1636, 1640, 1644], [160, 156, 160], color="#475569", lw=1.1, zorder=5)
tx(over, 1402, 234, "POC (Point of", 13.5, "#4b5563")
tx(over, 1402, 255, "Control):", 13.5, "#4b5563")
tx(over, 1532, 233, "13.93 บาท", 13, "#c62828", "bold", fam=MONO)
tx(over, 1532, 255, "(5.2%)", 13, "#c62828", "bold", fam=MONO)
over.plot([1402, 1649], [272, 272], color="#eceff1", lw=0.9, zorder=4)
tx(over, 1402, 295, "แนวสะสมหนาแน่น (HVN):", 13, "#4b5563", "bold")
for y, s in zip([319, 340, 361, 383], hvn_rows):
    tx(over, 1402, y, s, 12, "#1f2937", "bold", fam=MONO)
tx(over, 1402, 415, "แนวโวลุ่มเบาบาง (LVN):", 13, "#4b5563", "bold")
for y, s in zip([439, 460, 481, 502], lvn_rows):
    tx(over, 1402, y, s, 12, "#1f2937", "bold", fam=MONO)

with warnings.catch_warnings():
    warnings.simplefilter("ignore")
    fig.savefig("out.png", dpi=100, facecolor=BG_TOP)
